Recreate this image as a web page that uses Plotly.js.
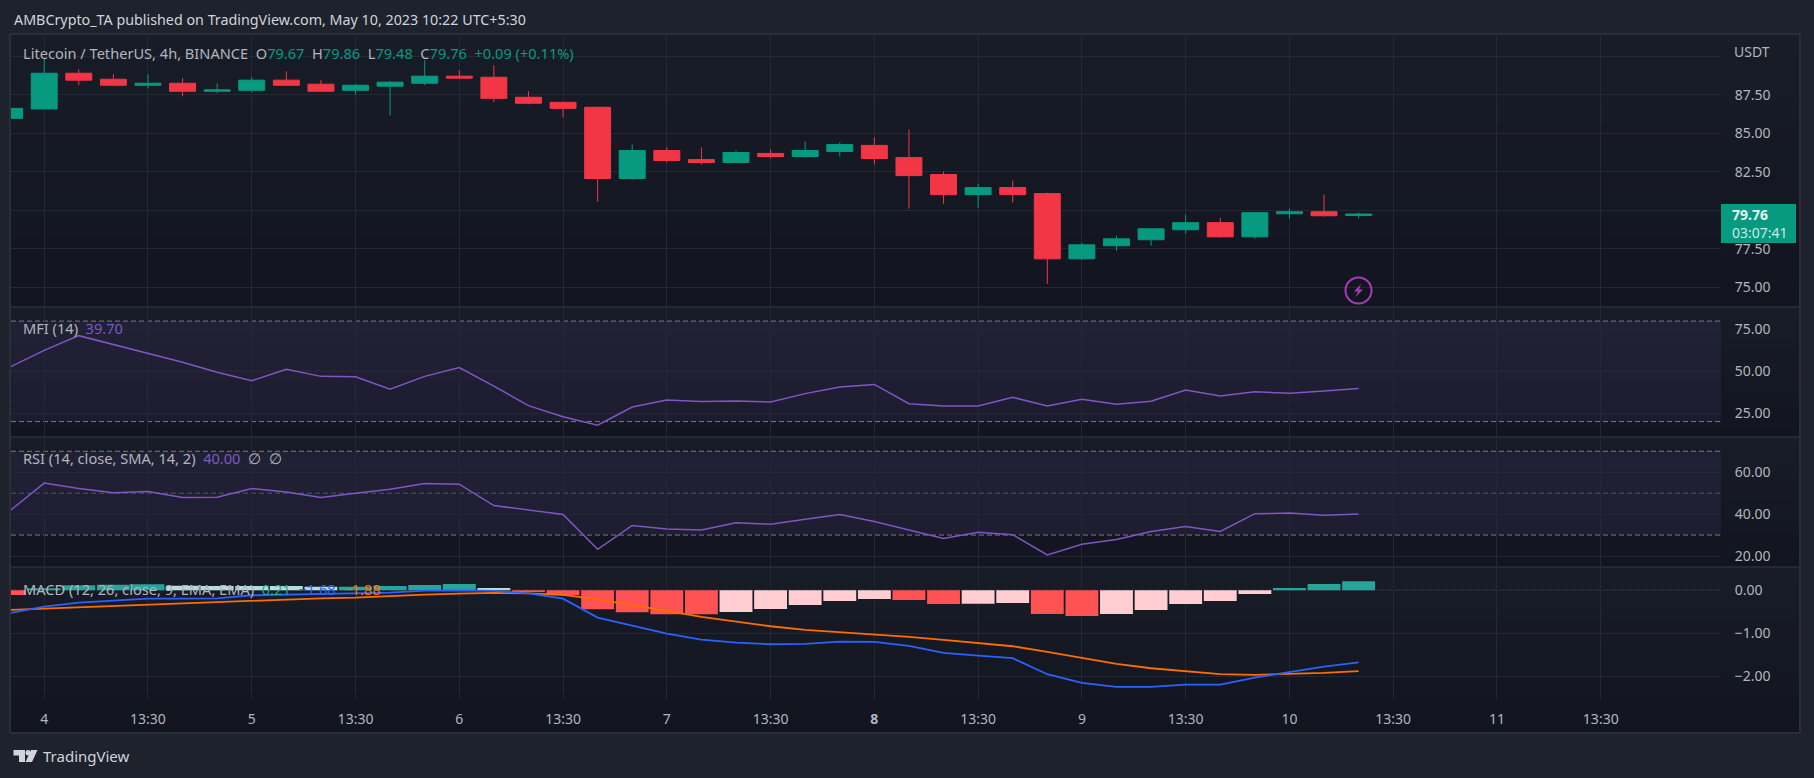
<!DOCTYPE html>
<html>
<head>
<meta charset="utf-8">
<script src="https://cdn.plot.ly/plotly-3.0.1.min.js"></script>
<style>
  html, body { margin: 0; padding: 0; background: #1e222d; overflow: hidden; }
  #chart { width: 1814px; height: 778px; }
</style>
</head>
<body>
<div id="chart"></div>
<script>
// candle index, -1 is the one cut off by the left edge
var idx = []
for (var n = -1; n <= 38; n++) idx.push(n)

var opens = [85.98, 86.59, 88.91, 88.52, 88.13, 88.26, 87.74, 87.80, 88.46, 88.20, 87.80, 88.07, 88.26, 88.72, 88.65, 87.35, 87.02, 86.70, 82.07, 83.89, 83.30, 83.11, 83.70, 83.50, 83.83, 84.22, 83.43, 82.33, 81.02, 81.48, 81.09, 76.85, 77.70, 78.09, 78.74, 79.20, 78.28, 79.78, 79.91, 79.67]
var highs = [86.63, 89.87, 89.17, 88.85, 88.85, 88.59, 88.26, 88.65, 89.04, 88.46, 88.20, 88.39, 89.76, 89.11, 89.43, 87.74, 87.02, 86.70, 84.28, 84.09, 84.09, 83.89, 83.96, 84.48, 84.41, 84.74, 85.26, 82.52, 81.74, 81.93, 81.15, 77.89, 78.35, 78.80, 79.72, 79.52, 79.91, 80.11, 81.02, 79.86]
var lows = [85.98, 86.59, 88.13, 88.07, 87.93, 87.41, 87.61, 87.67, 88.13, 87.74, 87.54, 86.17, 88.13, 88.52, 87.02, 86.89, 86.04, 80.57, 82.00, 83.11, 82.98, 83.11, 83.37, 83.50, 83.50, 82.98, 80.11, 80.43, 80.17, 80.50, 75.22, 76.78, 77.37, 77.70, 78.48, 78.22, 78.15, 79.46, 79.59, 79.48]
var closes = [86.63, 88.91, 88.46, 88.13, 88.26, 87.74, 87.83, 88.46, 88.13, 87.74, 88.13, 88.33, 88.72, 88.59, 87.28, 86.96, 86.63, 82.07, 83.89, 83.24, 83.11, 83.76, 83.50, 83.89, 84.28, 83.37, 82.26, 81.02, 81.48, 81.02, 76.85, 77.76, 78.15, 78.80, 79.20, 78.28, 79.85, 79.91, 79.65, 79.76]

var mfi = [52.5, 62.5, 71.3, 65.9, 60.8, 55.4, 49.4, 44.4, 51.2, 47.0, 46.8, 39.4, 47.0, 52.2, 41.2, 29.5, 22.9, 17.9, 28.7, 32.9, 32.0, 32.3, 31.7, 36.7, 40.6, 42.2, 30.7, 29.3, 29.3, 34.5, 29.3, 33.3, 30.3, 32.1, 38.8, 35.3, 37.8, 36.9, 38.2, 39.7]
var rsi = [41.5, 54.8, 52.2, 50.2, 50.8, 47.9, 48.1, 52.2, 50.5, 47.9, 50.0, 51.9, 54.6, 54.3, 44.1, 42.1, 39.8, 23.2, 34.6, 32.9, 32.4, 35.9, 35.2, 37.6, 39.8, 36.5, 32.4, 28.4, 31.3, 30.2, 20.5, 25.6, 27.9, 31.7, 34.1, 31.7, 40.2, 40.5, 39.5, 40.0]
var macdLine = [-0.53, -0.38, -0.287, -0.24, -0.194, -0.194, -0.186, -0.116, -0.10, -0.10, -0.085, -0.054, -0.01, 0.0, -0.015, -0.07, -0.194, -0.636, -0.82, -1.008, -1.147, -1.217, -1.256, -1.248, -1.194, -1.20, -1.295, -1.457, -1.519, -1.581, -1.953, -2.155, -2.248, -2.248, -2.194, -2.194, -2.03, -1.90, -1.775, -1.68]
var signalLine = [-0.457, -0.426, -0.395, -0.364, -0.333, -0.302, -0.271, -0.24, -0.209, -0.186, -0.17, -0.132, -0.10, -0.078, -0.062, -0.07, -0.109, -0.21, -0.34, -0.48, -0.62, -0.729, -0.837, -0.922, -0.977, -1.023, -1.085, -1.155, -1.225, -1.302, -1.434, -1.574, -1.713, -1.814, -1.891, -1.953, -1.969, -1.946, -1.922, -1.88]
var macdHist = [-0.108, 0.05, 0.12, 0.13, 0.14, 0.107, 0.10, 0.10, 0.10, 0.08, 0.085, 0.10, 0.124, 0.147, 0.054, -0.04, -0.115, -0.44, -0.51, -0.555, -0.558, -0.504, -0.434, -0.341, -0.248, -0.20, -0.225, -0.318, -0.315, -0.295, -0.55, -0.597, -0.55, -0.457, -0.318, -0.248, -0.085, 0.054, 0.147, 0.21]

var dayTicks = [0, 3, 6, 9, 12, 15, 18, 21, 24, 27, 30, 33, 36, 39, 42, 45]
var dayLabels = ['4', '13:30', '5', '13:30', '6', '13:30', '7', '13:30', '<b>8</b>', '13:30', '9', '13:30', '10', '13:30', '11', '13:30']

// 90 and 80 keep their grid line but show no label, USDT and the price tag sit there
var priceTicks = [90, 87.5, 85, 82.5, 80, 77.5, 75]
var priceLabels = ['', '87.50', '85.00', '82.50', '', '77.50', '75.00']
var mfiTicks = [75, 50, 25]
var mfiLabels = ['75.00', '50.00', '25.00']
var rsiTicks = [60, 40, 20]
var rsiLabels = ['60.00', '40.00', '20.00']
var macdTicks = [0, -1, -2]
var macdLabels = ['0.00', '\u22121.00', '\u22122.00']

// pixel frame of the plot, used to place everything that lives outside the axes
var L = 11, R = 1721, T = 34, B = 699
function px(x) { return (x - L) / (R - L) }
function py(y) { return (B - y) / (B - T) }

var UP = '#089981', DOWN = '#f23645', PURPLE = '#7e57c2'
var TXT = '#b2b5be', GRID = '#242834', EDGE = '#2a2e39'
var FONT = '"Noto Sans", sans-serif'

// same rule the histogram uses: strong colour when the bar grows away from zero
var histColors = macdHist.map(function (v, i) {
    var rising = i > 0 && v > macdHist[i - 1]
    if (v >= 0) return i == 0 || rising ? '#26a69a' : '#b2dfdb'
    return rising ? '#ffcdd2' : '#ff5252'
})

var candles = {
    type: 'candlestick', x: idx, open: opens, high: highs, low: lows, close: closes,
    xaxis: 'x', yaxis: 'y', whiskerwidth: 0,
    increasing: { line: { color: UP, width: 1 }, fillcolor: UP },
    decreasing: { line: { color: DOWN, width: 1 }, fillcolor: DOWN }
}

function lineTrace(y, axis, color, w) {
    return { type: 'scatter', mode: 'lines', x: idx, y: y, xaxis: 'x', yaxis: axis, line: { color: color, width: w } }
}

var hist = { type: 'bar', x: idx, y: macdHist, xaxis: 'x', yaxis: 'y4', marker: { color: histColors, line: { width: 0 } } }

var data = [
    candles,
    lineTrace(mfi, 'y2', PURPLE, 1.5),
    lineTrace(rsi, 'y3', PURPLE, 1.5),
    hist,
    lineTrace(signalLine, 'y4', '#ff6d00', 1.8),
    lineTrace(macdLine, 'y4', '#2962ff', 1.8)
]

// ---- frame and pane backgrounds ----
var shapes = []

function pxRect(x0, y0, x1, y1, fill) {
    shapes.push({ type: 'rect', xref: 'paper', yref: 'paper', x0: px(x0), x1: px(x1), y0: py(y0), y1: py(y1), fillcolor: fill, line: { width: 0 }, layer: 'below' })
}
function pxLine(x0, y0, x1, y1, color, w) {
    shapes.push({ type: 'line', xref: 'paper', yref: 'paper', x0: px(x0), x1: px(x1), y0: py(y0), y1: py(y1), line: { color: color, width: w }, layer: 'below' })
}

// each pane fades a little darker towards its bottom
function paneFade(top, bottom) {
    var steps = 12
    for (var i = 0; i < steps; i++) {
        var t = i / (steps - 1)
        var r = Math.round(24 - t * 6), g = Math.round(28 - t * 7), b = Math.round(39 - t * 8)
        var h = (bottom - top) / steps
        pxRect(11, top + i * h, 1800, top + (i + 1) * h + 0.5, 'rgb(' + r + ',' + g + ',' + b + ')')
    }
}
paneFade(34, 307)
paneFade(307, 437)
paneFade(437, 567)
paneFade(567, 733)

pxLine(10, 34, 1800, 34, EDGE, 2)
pxLine(10, 34, 10, 733, EDGE, 2)
pxLine(1800, 34, 1800, 733, EDGE, 2)
pxLine(10, 733, 1800, 733, EDGE, 2)
pxLine(11, 307, 1800, 307, EDGE, 1.5)
pxLine(11, 437, 1800, 437, EDGE, 1.5)
pxLine(11, 567, 1800, 567, EDGE, 1.5)

// indicator bands and levels
function level(axis, v, alpha) {
    shapes.push({ type: 'line', xref: 'paper', yref: axis, x0: 0, x1: 1, y0: v, y1: v, layer: 'below', line: { color: 'rgba(120,123,134,' + alpha + ')', width: 1, dash: '5px,3px' } })
}
function band(axis, v0, v1) {
    shapes.push({ type: 'rect', xref: 'paper', yref: axis, x0: 0, x1: 1, y0: v0, y1: v1, layer: 'below', fillcolor: 'rgba(126,87,194,0.1)', line: { width: 0 } })
}
band('y2', 20, 80); level('y2', 80, 1); level('y2', 50, 0.6); level('y2', 20, 1)
band('y3', 30, 70); level('y3', 70, 1); level('y3', 50, 0.6); level('y3', 30, 1)
level('y4', 0, 0.6)

// last price tag
var lastClose = closes[closes.length - 1]
shapes.push({ type: 'rect', xref: 'paper', yref: 'paper', x0: px(1721), x1: px(1796), y0: py(204), y1: py(243), fillcolor: UP, line: { width: 0 }, layer: 'above' })

function polyPath(pts) {
    return 'M' + pts.map(function (p) { return px(p[0]) + ',' + py(p[1]) }).join('L') + 'Z'
}

// snapshot marker
var boltColor = '#a83ab8'
shapes.push({ type: 'circle', xref: 'paper', yref: 'paper', x0: px(1345.5), x1: px(1371.5), y0: py(277.5), y1: py(303.5), line: { color: boltColor, width: 2 }, layer: 'above' })
shapes.push({ type: 'path', xref: 'paper', yref: 'paper', path: polyPath([[1361, 284], [1354, 291.5], [1358, 291.5], [1355.5, 297], [1363, 289.5], [1359, 289.5]]), fillcolor: boltColor, line: { width: 0 } })

// TradingView mark
var logoFill = '#d1d4dc'
shapes.push({ type: 'path', xref: 'paper', yref: 'paper', path: polyPath([[13.5, 750], [25, 750], [25, 762], [19, 762], [19, 755.5], [13.5, 755.5]]), fillcolor: logoFill, line: { width: 0 } })
shapes.push({ type: 'path', xref: 'paper', yref: 'paper', path: polyPath([[31, 750], [37.5, 750], [32, 762], [25.5, 762]]), fillcolor: logoFill, line: { width: 0 } })
shapes.push({ type: 'circle', xref: 'paper', yref: 'paper', x0: px(25.5), x1: px(30.5), y0: py(750), y1: py(755.5), fillcolor: logoFill, line: { width: 0 } })

// ---- text ----
function label(x, y, text, size, color, anchor) {
    return {
        xref: 'paper', yref: 'paper', x: px(x), y: py(y), text: text, showarrow: false,
        xanchor: anchor || 'left', yanchor: 'middle', borderpad: 0,
        font: { family: FONT, size: size, color: color }
    }
}
function tint(text, color) { return '<span style="color:' + color + '">' + text + '</span>' }

var last = closes.length - 1
var sp = '\u00a0\u00a0'
var priceLegend = 'Litecoin / TetherUS, 4h, BINANCE' + sp +
    'O' + tint(opens[last].toFixed(2), UP) + sp +
    'H' + tint(highs[last].toFixed(2), UP) + sp +
    'L' + tint(lows[last].toFixed(2), UP) + sp +
    'C' + tint(closes[last].toFixed(2), UP) + sp +
    tint('+0.09 (+0.11%)', UP)

var macdLegend = 'MACD (12, 26, close, 9, EMA, EMA)' + sp +
    tint(macdHist[last].toFixed(2), '#26a69a') + sp +
    tint('\u2212' + Math.abs(macdLine[last]).toFixed(2), '#2962ff') + sp +
    tint('\u2212' + Math.abs(signalLine[last]).toFixed(2), '#ff6d00')

var annotations = [
    label(12.5, 20, 'AMBCrypto_TA published on TradingView.com, May 10, 2023 10:22 UTC+5:30', 14.3, '#d1d4dc'),
    label(22, 53.5, priceLegend, 14.6, TXT),
    label(22, 327.5, 'MFI (14)' + sp + tint(mfi[last].toFixed(2), PURPLE), 14.6, TXT),
    label(22, 457.5, 'RSI (14, close, SMA, 14, 2)' + sp + tint(rsi[last].toFixed(2), PURPLE) + sp + '\u2205' + sp + '\u2205', 14.6, TXT),
    label(22, 589, macdLegend, 14.6, TXT),
    label(1733, 51, 'USDT', 14, TXT),
    label(1731, 215, '<b>' + lastClose.toFixed(2) + '</b>', 14, '#e4f5f1'),
    label(1731, 232.5, '03:07:41', 14, '#c8ebe3'),
    label(42, 756, 'TradingView', 15, '#d1d4dc')
]

function yAxis(range, ticks, labels, lo, hi) {
    return {
        domain: [lo, hi], range: range, anchor: 'x', side: 'right', fixedrange: true,
        tickmode: 'array', tickvals: ticks, ticktext: labels,
        ticks: 'outside', ticklen: 10, tickcolor: 'rgba(0,0,0,0)',
        tickfont: { family: FONT, size: 14, color: TXT },
        gridcolor: GRID, gridwidth: 1, zeroline: false, showline: false, automargin: false
    }
}

var layout = {
    width: 1814, height: 778,
    margin: { l: L, r: 1814 - R, t: T, b: 778 - B, pad: 0 },
    paper_bgcolor: '#1e222d', plot_bgcolor: 'rgba(0,0,0,0)',
    showlegend: false, boxgap: 0.25, boxgroupgap: 0, bargap: 0.05,
    xaxis: {
        domain: [0, 1], range: [(L - 44.2) / 34.59, (R - 44.2) / 34.59], anchor: 'y4',
        rangeslider: { visible: false }, fixedrange: true,
        tickmode: 'array', tickvals: dayTicks, ticktext: dayLabels,
        ticks: 'outside', ticklen: 7, tickcolor: 'rgba(0,0,0,0)',
        tickangle: 0, tickfont: { family: FONT, size: 14, color: TXT },
        gridcolor: GRID, gridwidth: 1, zeroline: false, showline: false, automargin: false
    },
    yaxis: yAxis([73.72, 91.46], priceTicks, priceLabels, py(307), py(34)),
    yaxis2: yAxis([10.8, 88.4], mfiTicks, mfiLabels, py(437), py(307)),
    yaxis3: yAxis([14.76, 76.8], rsiTicks, rsiLabels, py(567), py(437)),
    yaxis4: yAxis([-2.53, 0.542], macdTicks, macdLabels, 0, py(567)),
    shapes: shapes,
    annotations: annotations
}

Plotly.newPlot('chart', data, layout, { displayModeBar: false, staticPlot: true })
</script>
</body>
</html>
